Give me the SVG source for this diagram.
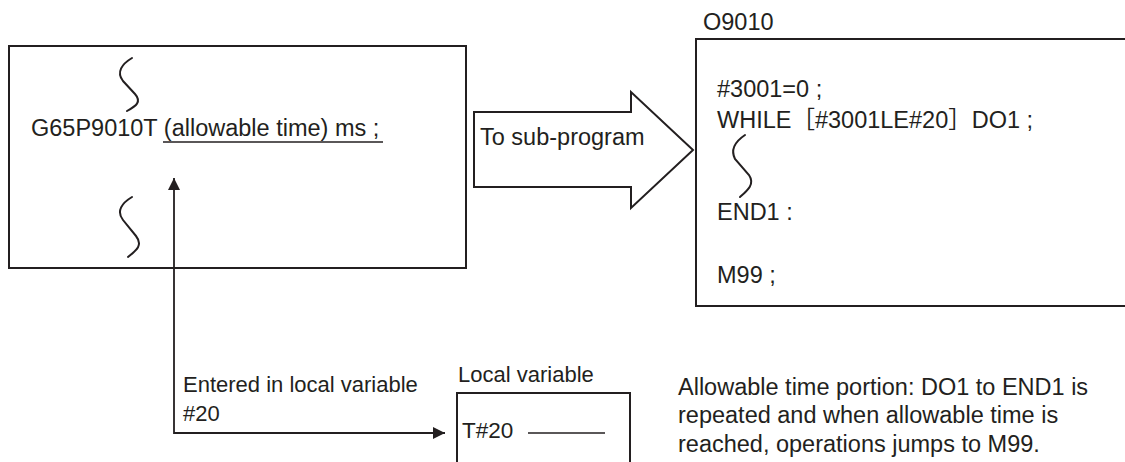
<svg xmlns="http://www.w3.org/2000/svg" width="1125" height="462" viewBox="0 0 1125 462">
<style>
text{font-family:"Liberation Sans",Arial,"Noto Sans CJK JP",sans-serif;fill:#231f20;font-size:23.5px}
.sm{font-size:22px}
.box{fill:none;stroke:#231f20;stroke-width:2}
.sq{fill:none;stroke:#231f20;stroke-width:2;stroke-linecap:round}
.ln{fill:none;stroke:#231f20;stroke-width:1.8}
</style>
<defs>
<marker id="ah" viewBox="0 0 12 12" refX="12" refY="6" markerWidth="12" markerHeight="12" markerUnits="userSpaceOnUse" orient="auto">
<path d="M0,0 L12,6 L0,12 Z" fill="#231f20"/>
</marker>
</defs>
<rect width="1125" height="462" fill="#fff"/>
<g id="main-program">
<rect class="box" x="9" y="46" width="457" height="222"/>
<path class="sq" d="M132,58 C122,64 116,72 123,81 L135,94 C142,102 136,106 127,111"/>
<text x="31" y="136">G65P9010T (allowable time) ms ;</text>
<line class="ln" x1="163" y1="142" x2="383" y2="142" style="stroke-width:1.5"/>
<path class="sq" d="M132,197 C122,203 116,211 123,220 L136,236 C143,245 137,250 128,257"/>
</g>
<g id="to-sub-program">
<path class="box" d="M474,112 L631,112 L631,92 L693,150 L631,208 L631,187 L474,187 Z"/>
<text x="480" y="145">To sub-program</text>
</g>
<g id="subprogram">
<text x="703" y="30">O9010</text>
<path class="box" d="M1130,39 L696,39 L696,306 L1130,306"/>
<text x="717" y="97">#3001=0 ;</text>
<text x="717" y="128">WHILE［#3001LE#20］DO1 ;</text>
<path class="sq" d="M745,135 C736,141 730,149 735,159 L749,175 C755,184 748,190 740,197"/>
<text x="717" y="220">END1 :</text>
<text x="717" y="283">M99 ;</text>
</g>
<g id="local-variable">
<text class="sm" x="458" y="382">Local variable</text>
<path class="box" d="M457,470 L457,393 L630,393 L630,470"/>
<text x="462" y="438" style="font-size:22.5px">T#20</text>
<line class="ln" x1="528" y1="433" x2="605" y2="433" style="stroke-width:1.5"/>
</g>
<g id="note">
<text x="678" y="395">Allowable time portion: DO1 to END1 is</text>
<text x="678" y="423">repeated and when allowable time is</text>
<text x="678" y="452">reached, operations jumps to M99.</text>
</g>
<g id="connectors">
<path class="ln" d="M445,433 L174,433 L174,178" marker-end="url(#ah)"/>
<path class="ln" d="M174,433 L445,433" marker-end="url(#ah)"/>
<text class="sm" x="183" y="392">Entered in local variable</text>
<text class="sm" x="183" y="421">#20</text>
</g>
</svg>
